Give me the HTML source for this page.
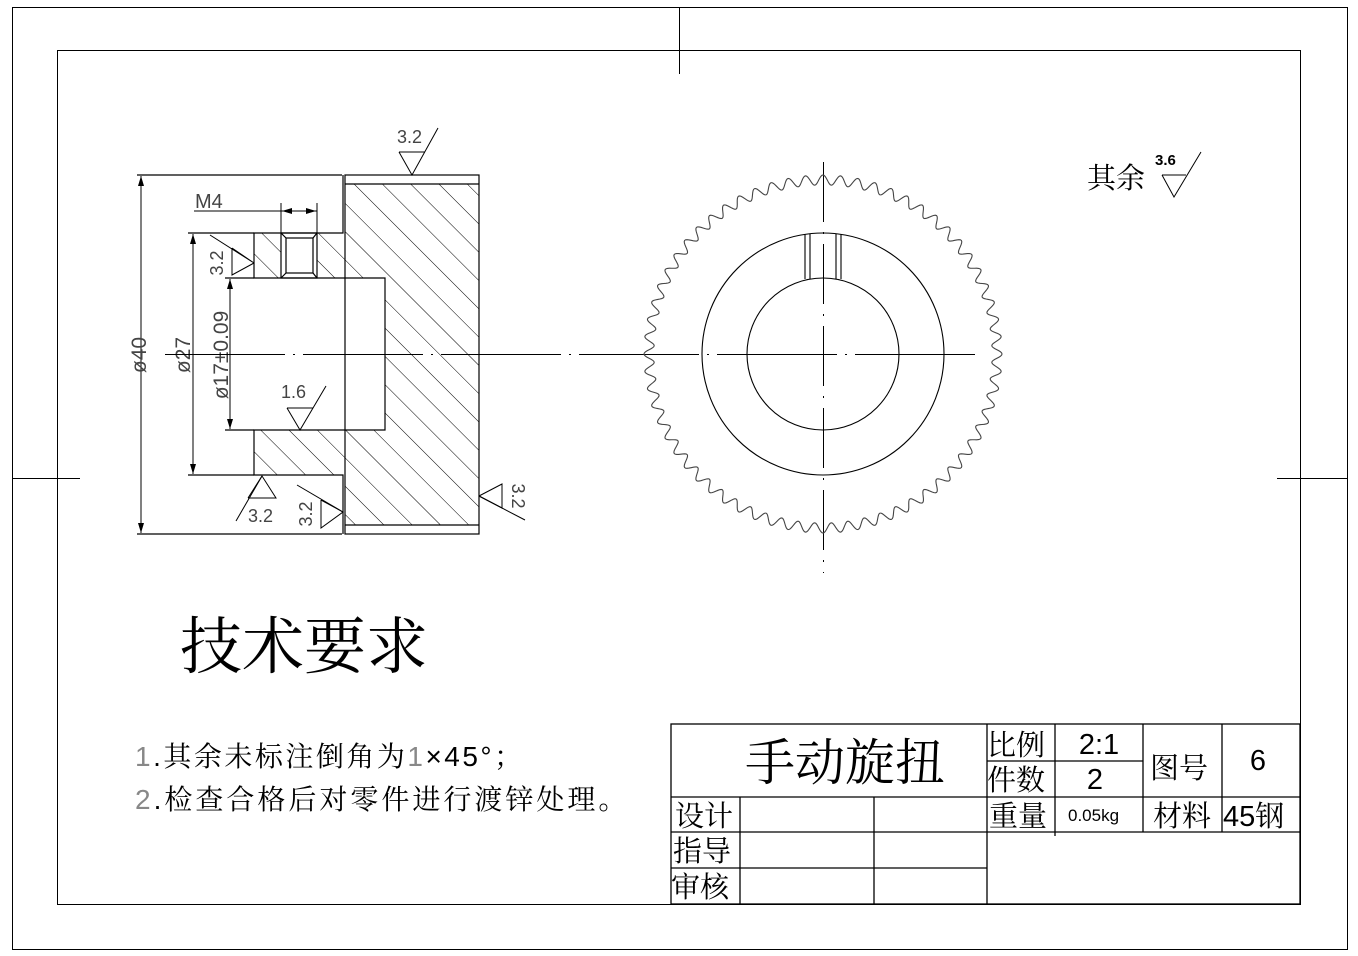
<!DOCTYPE html>
<html><head><meta charset="utf-8"><style>
html,body{margin:0;padding:0;background:#fff;}
svg{display:block;}
text{font-family:"Liberation Sans","Noto Serif CJK SC","Noto Sans CJK SC",sans-serif;fill:#000;}
.cad{font-family:"Liberation Sans",sans-serif;fill:#444;}
</style></head><body>
<svg width="1358" height="956" viewBox="0 0 1358 956" xmlns="http://www.w3.org/2000/svg">
<defs>
<pattern id="hatch" patternUnits="userSpaceOnUse" width="20" height="20" patternTransform="rotate(-45)">
<line x1="0" y1="0" x2="0" y2="20" stroke="#000" stroke-width="1"/>
</pattern>
<marker id="ar" viewBox="0 0 10 6" refX="10" refY="3" markerWidth="10" markerHeight="6" orient="auto-start-reverse" markerUnits="userSpaceOnUse">
<path d="M0,0 L10,3 L0,6 z" fill="#000"/>
</marker>
</defs>
<g fill="none" stroke="#000" stroke-width="1">
<rect x="12.5" y="7.5" width="1335" height="942"/>
<rect x="57.5" y="50.5" width="1243" height="854"/>
<line x1="679.5" y1="7" x2="679.5" y2="74"/>
<line x1="12" y1="478.5" x2="80" y2="478.5"/>
<line x1="1277" y1="478.5" x2="1347" y2="478.5"/>
</g>

<path d="M345,184 L479,184 L479,525 L345,525 L345,475 L254,475 L254,430 L385,430 L385,278 L254,278 L254,233 L345,233 Z" fill="url(#hatch)"/>
<rect x="281" y="233" width="36" height="45" fill="#fff"/>
<g fill="none" stroke="#000" stroke-width="1.2">
<line x1="137" y1="175" x2="342" y2="175"/>
<line x1="137" y1="534" x2="342" y2="534"/>
<rect x="345" y="175" width="134" height="359"/>
<line x1="345" y1="184" x2="479" y2="184"/>
<line x1="345" y1="525" x2="479" y2="525"/>
<polyline points="343,175 343,233 254,233 254,278 385,278 385,430 254,430 254,475 343,475 343,534"/>
<line x1="225" y1="278" x2="254" y2="278"/>
<line x1="225" y1="430" x2="254" y2="430"/>
<line x1="188" y1="233" x2="254" y2="233"/>
<line x1="188" y1="475" x2="254" y2="475"/>
<rect x="281" y="233" width="36" height="45"/>
<rect x="286" y="238" width="27" height="35"/>
<line x1="281" y1="233" x2="286" y2="238"/><line x1="317" y1="233" x2="313" y2="238"/>
<line x1="281" y1="278" x2="286" y2="273"/><line x1="317" y1="278" x2="313" y2="273"/>
</g>
<g stroke="#000" stroke-width="1" fill="none">
<line x1="141" y1="176" x2="141" y2="533" marker-start="url(#ar)" marker-end="url(#ar)"/>
<line x1="193" y1="234" x2="193" y2="474" marker-start="url(#ar)" marker-end="url(#ar)"/>
<line x1="230" y1="279" x2="230" y2="429" marker-start="url(#ar)" marker-end="url(#ar)"/>
<line x1="194" y1="211" x2="317" y2="211"/>
<line x1="281" y1="203" x2="281" y2="233"/>
<line x1="317" y1="203" x2="317" y2="233"/>
<line x1="295" y1="211" x2="282" y2="211" marker-end="url(#ar)"/>
<line x1="303" y1="211" x2="316" y2="211" marker-end="url(#ar)"/>
</g>
<text class="cad" x="195" y="208" font-size="20">M4</text>
<text class="cad" font-size="21" transform="translate(146,355) rotate(-90)" text-anchor="middle">ø40</text>
<text class="cad" font-size="21" transform="translate(190,355) rotate(-90)" text-anchor="middle">ø27</text>
<text class="cad" font-size="21" transform="translate(228,355) rotate(-90)" text-anchor="middle">ø17±0.09</text>

<g stroke="#000" stroke-width="1" fill="none">
<polyline points="399,152 412,175 438,128"/><line x1="399" y1="152" x2="425" y2="152"/>
<polyline points="232,248 254,263 210,235"/><polyline points="232,248 232,275 254,263"/>
<polyline points="287,408 300,430 326,386"/><line x1="287" y1="408" x2="313" y2="408"/>
<polyline points="248,498 262,476 276,498 248,498"/><line x1="262" y1="476" x2="236" y2="521"/>
<polyline points="321,500 343,512 321,528 321,500"/><line x1="343" y1="512" x2="297" y2="485"/>
<polyline points="479,496 502,484 502,508 479,496"/><line x1="479" y1="496" x2="525" y2="520"/>
</g>
<text class="cad" x="397" y="143" font-size="18">3.2</text>
<text class="cad" x="281" y="398" font-size="18">1.6</text>
<text class="cad" x="248" y="522" font-size="18">3.2</text>
<text class="cad" font-size="18" transform="translate(223,263) rotate(-90)" text-anchor="middle">3.2</text>
<text class="cad" font-size="18" transform="translate(312,514) rotate(-90)" text-anchor="middle">3.2</text>
<text class="cad" font-size="18" transform="translate(512,496) rotate(90)" text-anchor="middle">3.2</text>

<g stroke="#000" stroke-width="1">
<line x1="165" y1="354.5" x2="975" y2="354.5" stroke-dasharray="120,8,2,8"/>
<line x1="823.5" y1="162" x2="823.5" y2="573" stroke-dasharray="60,10,2,10"/>
</g>

<path id="gear" fill="none" stroke="#444" stroke-width="1.1" d=""/>
<g fill="none" stroke="#000" stroke-width="1.1">
<circle cx="823" cy="354" r="121"/>
<circle cx="823" cy="354" r="76"/>
<line x1="805" y1="234" x2="805" y2="279"/><line x1="810" y1="234" x2="810" y2="279"/>
<line x1="836" y1="234" x2="836" y2="279"/><line x1="841" y1="234" x2="841" y2="279"/>
</g>

<text x="1087" y="188" font-size="29">其余</text>
<text x="1155" y="165" font-size="15" font-family="Liberation Mono,monospace" font-weight="bold">3.6</text>
<path d="M1162,175 L1186,175 M1162,175 L1174,197 L1201,152" fill="none" stroke="#000" stroke-width="1"/>

<text x="180" y="668" font-size="62">技术要求</text>
<text x="135" y="766" font-size="28" letter-spacing="2.5"><tspan fill="#888">1</tspan>.其余未标注倒角为<tspan fill="#888">1</tspan>×45°；</text>
<text x="135" y="809" font-size="28" letter-spacing="3"><tspan fill="#888">2</tspan>.检查合格后对零件进行渡锌处理。</text>

<g fill="none" stroke="#000" stroke-width="1.3">
<rect x="671" y="724" width="629" height="180"/>
<line x1="671" y1="797" x2="1300" y2="797"/>
<line x1="671" y1="832" x2="987" y2="832"/>
<line x1="671" y1="868" x2="987" y2="868"/>
<line x1="987" y1="832" x2="1300" y2="832"/>
<line x1="740" y1="797" x2="740" y2="904"/>
<line x1="874" y1="797" x2="874" y2="904"/>
<line x1="987" y1="724" x2="987" y2="904"/>
<line x1="1055" y1="724" x2="1055" y2="836"/>
<line x1="1143" y1="724" x2="1143" y2="832"/>
<line x1="1222" y1="724" x2="1222" y2="832"/>
<line x1="987" y1="761" x2="1143" y2="761"/>
</g>
<text x="845" y="780" font-size="50" text-anchor="middle">手动旋扭</text>
<g font-size="29">
<text x="987" y="755">比例</text>
<text x="987" y="790">件数</text>
<text x="989" y="826">重量</text>
<text x="1150" y="778">图号</text>
<text x="1153" y="826">材料</text>
<text x="675" y="826">设计</text>
<text x="673" y="861">指导</text>
<text x="671" y="897">审核</text>
<text x="1223" y="826">45钢</text>
<text x="1099" y="754" text-anchor="middle" font-family="Liberation Serif,serif">2:1</text>
<text x="1095" y="789" text-anchor="middle" font-family="Liberation Serif,serif">2</text>
<text x="1258" y="770" text-anchor="middle" font-family="Liberation Serif,serif">6</text>
</g>
<text x="1068" y="821" font-size="17" font-family="Liberation Serif,serif">0.05kg</text>
</svg>
<script>
(function(){
var cx=823,cy=354,n=64,R=174,a=5,d="";
for(var i=0;i<=1024;i++){var t=i/1024*2*Math.PI;var r=R+a*Math.cos(n*t);
var x=cx+r*Math.sin(t),y=cy-r*Math.cos(t);d+=(i?"L":"M")+x.toFixed(2)+","+y.toFixed(2);}
document.getElementById("gear").setAttribute("d",d+"Z");
})();
</script>
</body></html>
